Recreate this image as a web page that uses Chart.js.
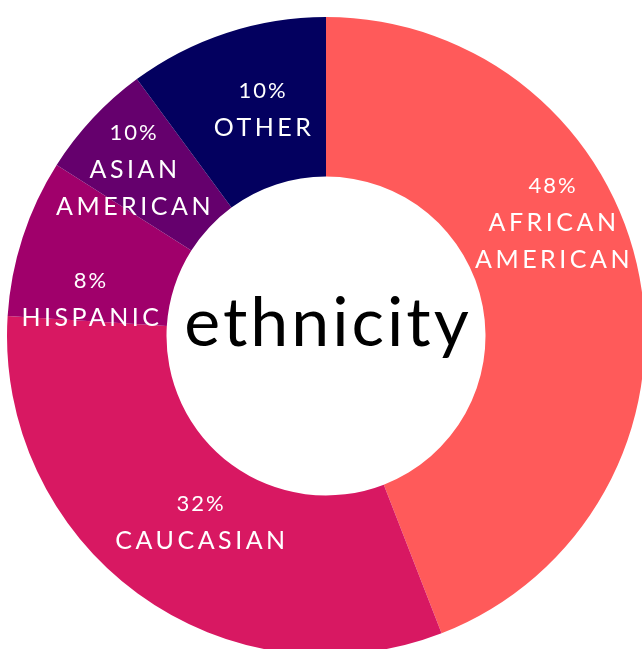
<!DOCTYPE html>
<html lang="en">
<head>
  <meta charset="UTF-8">
  <title>Ethnicity</title>
  <script src="https://cdn.jsdelivr.net/npm/chart.js"></script>
  <style>
    html, body { margin: 0; padding: 0; background: #ffffff; overflow: hidden; }
    #wrap { width: 642px; height: 649px; overflow: hidden; position: relative; }
    canvas { position: absolute; left: 0; top: 0; }
  </style>
</head>
<body>
  <div id="wrap">
    <canvas id="ethChart" width="652" height="672"></canvas>
  </div>

  <script>
    // slice sizes (share of the ring, %)
    const groups = ['African American', 'Caucasian', 'Hispanic', 'Asian American', 'Other'];
    const shares = [44.1, 31.9, 8.0, 5.9, 10.1];
    // printed percentages (as written on the chart)
    const pctLabels = ['48%', '32%', '8%', '10%', '10%'];
    const nameLines = [['AFRICAN', 'AMERICAN'], ['CAUCASIAN'], ['HISPANIC'], ['ASIAN', 'AMERICAN'], ['OTHER']];
    const colors = ['#ff5a5a', '#d81862', '#a0006b', '#65006d', '#03005f'];

    // where each label block starts, relative to the ring centre
    const labelAt = [[226, -150], [-126, 168], [-236, -55], [-193, -203], [-64, -245]];

    const ringLabels = {
      id: 'ringLabels',
      afterDraw(chart) {
        const { ctx } = chart;
        const arc = chart.getDatasetMeta(0).data[0];
        const cx = arc.x, cy = arc.y;
        ctx.save();
        ctx.textAlign = 'center';
        ctx.textBaseline = 'middle';
        ctx.fillStyle = '#ffffff';
        pctLabels.forEach((p, i) => {
          const x = cx + labelAt[i][0];
          let y = cy + labelAt[i][1];
          ctx.font = '400 22px Lato';
          ctx.letterSpacing = '2px';
          ctx.fillText(p, x + 1, y);
          ctx.font = '400 25px Lato';
          ctx.letterSpacing = '3.5px';
          nameLines[i].forEach(line => {
            y += 37;
            ctx.fillText(line, x + 2, y);
          });
        });
        ctx.fillStyle = '#000000';
        ctx.font = '400 68px Lato';
        ctx.letterSpacing = '3px';
        ctx.textBaseline = 'alphabetic';
        ctx.fillText('ethnicity', cx + 2, cy + 10);
        ctx.restore();
      }
    };

    new Chart(document.getElementById('ethChart'), {
      type: 'doughnut',
      data: {
        labels: groups,
        datasets: [{ data: shares, backgroundColor: colors, borderWidth: 0 }]
      },
      options: {
        responsive: false,
        animation: false,
        cutout: '50%',
        layout: { padding: 7 },
        plugins: { legend: { display: false }, tooltip: { enabled: false } }
      },
      plugins: [ringLabels]
    });
  </script>
</body>
</html>
